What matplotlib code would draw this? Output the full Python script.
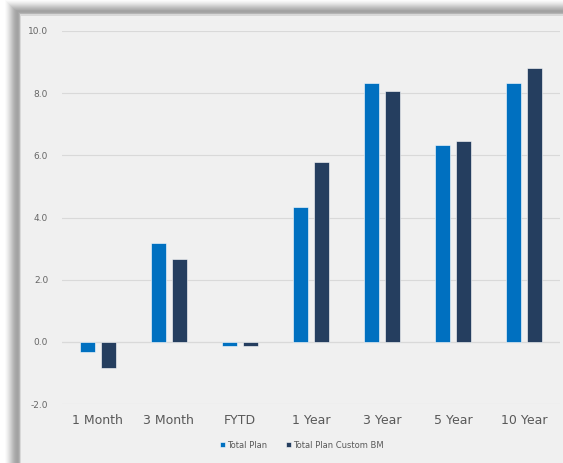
import matplotlib
matplotlib.use("Agg")
import matplotlib.pyplot as plt
import numpy as np
from matplotlib.patches import Rectangle

categories = ["1 Month", "3 Month", "FYTD", "1 Year", "3 Year", "5 Year", "10 Year"]
total_plan = [-0.34, 3.18, -0.12, 4.34, 8.32, 6.33, 8.32]
custom_bm = [-0.85, 2.67, -0.12, 5.79, 8.07, 6.46, 8.81]
y_ticks = [-2.0, 0.0, 2.0, 4.0, 6.0, 8.0, 10.0]
series_names = ["Total Plan", "Total Plan Custom BM"]

W, H = 563, 463
fig = plt.figure(figsize=(W / 100, H / 100), dpi=100)
fig.patch.set_facecolor("white")


def fx(x):
    return x / W


def fy(y):
    return 1 - y / H


# Frame with soft shadow: nested bands stepping inward from outer edge
left_cols = ["#fbfbfb", "#f5f5f5", "#eeeeee", "#e6e6e6", "#dddddd", "#d3d3d3",
             "#c9c9c9", "#bfbfbf", "#b6b6b6", "#aeaeae", "#a8a8a8", "#a4a4a4",
             "#a2a2a2", "#a6a6a6", "#b4b4b4", "#d8d8d8"]
x0, y0 = 5, 0
for i, c in enumerate(left_cols):
    xl = x0 + i
    yt = y0 + i * 0.95
    fig.patches.append(Rectangle((fx(xl), 0), 1 - fx(xl) + 0.01, fy(yt),
                                 transform=fig.transFigure, facecolor=c,
                                 edgecolor="none", zorder=-5))
fig.patches.append(Rectangle((fx(21), 0), 1, fy(15.5),
                             transform=fig.transFigure, facecolor="#f0f0f0",
                             edgecolor="none", zorder=-4))

ax = fig.add_axes([fx(62), fy(404), fx(560) - fx(62), fy(31) - fy(404)])
ax.set_facecolor("none")
ax.set_zorder(1)

x = np.arange(len(categories))
bw = 0.21
gap = 0.085
off = (bw + gap) / 2
ax.bar(x - off, total_plan, width=bw, color="#0070C0", edgecolor="white",
       linewidth=0.4, zorder=3, label=series_names[0])
ax.bar(x + off, custom_bm, width=bw, color="#253E5F", edgecolor="white",
       linewidth=0.4, zorder=3, label=series_names[1])

ax.set_xlim(-0.5, len(categories) - 0.5)
ax.set_ylim(-2.0, 10.0)
ax.set_yticks(y_ticks)
ax.set_yticklabels([f"{v:.1f}" for v in y_ticks])
ax.set_xticks(x)
ax.set_xticklabels(categories)
ax.grid(axis="y", color="#d9d9d9", linewidth=0.8, zorder=0)
ax.axhline(0, color="#d9d9d9", linewidth=0.8, zorder=1)
for s in ax.spines.values():
    s.set_visible(False)
ax.tick_params(axis="y", length=0, pad=10, labelsize=6.5, labelcolor="#666666")
ax.tick_params(axis="x", length=0, pad=7, labelsize=9, labelcolor="#595959")

leg = fig.legend(loc="center", bbox_to_anchor=(fx(302), fy(445)), ncol=2,
                 frameon=False, fontsize=6, handlelength=0.6, handleheight=0.6,
                 handletextpad=0.3, columnspacing=2.2, labelcolor="#595959")

fig.savefig("out.png", dpi=100)
